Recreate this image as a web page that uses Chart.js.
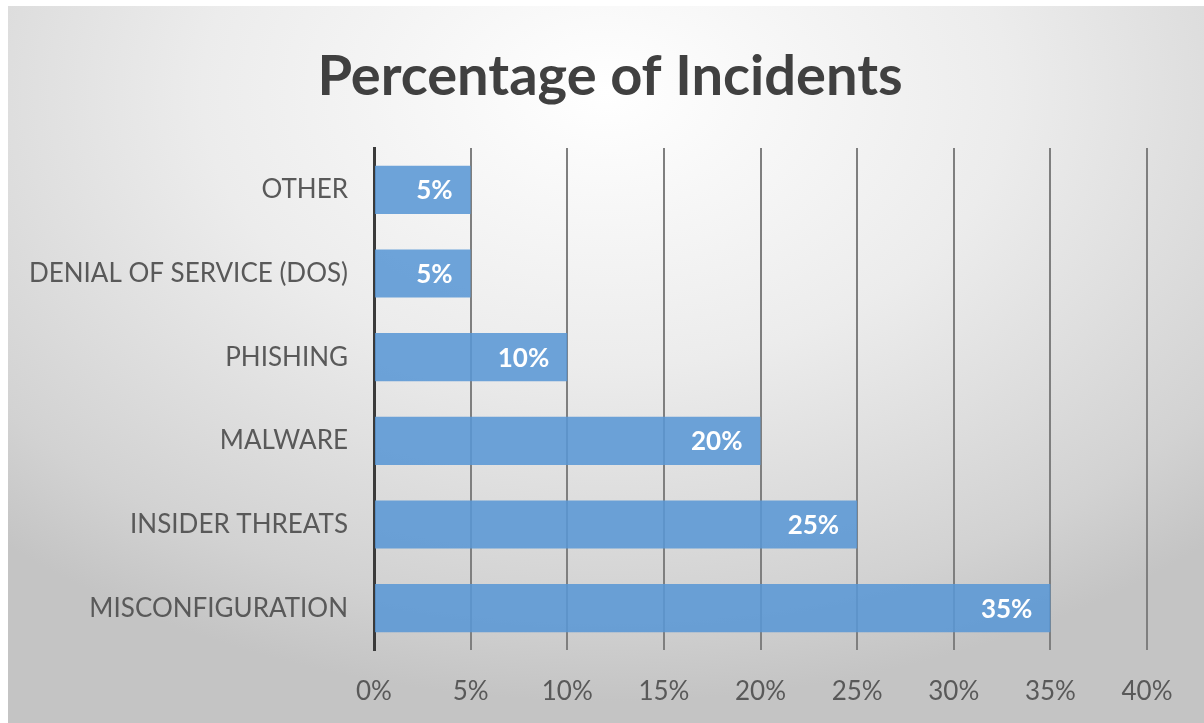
<!DOCTYPE html>
<html>
<head>
<meta charset="utf-8">
<script src="https://cdn.jsdelivr.net/npm/chart.js@4"></script>
<style>
  html, body { margin: 0; padding: 0; background: #fff; }
  .frame {
    position: absolute; left: 8px; top: 6px; width: 1196px; height: 717px;
    background: radial-gradient(ellipse 75% 85% at 50% 12%, #ffffff 0%, #ececec 45%, #d2d2d2 85%, #c4c4c4 100%);
  }
  #chart { position: absolute; left: 0; top: 0; }
</style>
</head>
<body>
<div class="frame"></div>
<canvas id="chart" width="1204" height="723"></canvas>
<script>
const chartTitle = "Percentage of Incidents";
const categories = ["OTHER", "DENIAL OF SERVICE (DOS)", "PHISHING", "MALWARE", "INSIDER THREATS", "MISCONFIGURATION"];
const percentages = [5, 5, 10, 20, 25, 35];
const xTicks = [0, 5, 10, 15, 20, 25, 30, 35, 40];

// title is centred on the whole frame, not on the padded layout box
const frameTitle = {
  id: "frameTitle",
  afterDraw(chart) {
    const ctx = chart.ctx;
    ctx.save();
    ctx.font = "bold 56px Lato";
    ctx.fillStyle = "#404040";
    ctx.textAlign = "center";
    ctx.textBaseline = "middle";
    ctx.fillText(chartTitle, 610, 77);
    ctx.restore();
  },
};

// draws "35%" etc. inside the end of each bar
const barLabels = {
  id: "barLabels",
  afterDatasetsDraw(chart) {
    const ctx = chart.ctx;
    const meta = chart.getDatasetMeta(0);
    ctx.save();
    ctx.font = "bold 26px Lato";
    ctx.fillStyle = "#ffffff";
    ctx.textAlign = "right";
    ctx.textBaseline = "middle";
    meta.data.forEach((bar, i) => {
      const { x, y } = bar.getProps(["x", "y"], true);
      ctx.fillText(percentages[i] + "%", x - 18, y + 1);
    });
    ctx.restore();
  },
};

new Chart(document.getElementById("chart"), {
  type: "bar",
  data: {
    labels: categories,
    datasets: [
      {
        data: percentages,
        backgroundColor: "rgba(90, 151, 213, 0.88)",
        barPercentage: 0.8,
        categoryPercentage: 0.72,
      },
    ],
  },
  options: {
    indexAxis: "y",
    responsive: false,
    animation: false,
    layout: { padding: { top: 148, right: 57, bottom: 0, left: 0 } },
    plugins: {
      legend: { display: false },
      tooltip: { enabled: false },
      title: { display: false },
    },
    scales: {
      x: {
        min: 0,
        max: 40,
        afterBuildTicks: (scale) => {
          scale.ticks = xTicks.map((v) => ({ value: v }));
        },
        afterFit: (scale) => {
          scale.height = 73;
        },
        ticks: {
          callback: (v) => v + "%",
          color: "#595959",
          font: { family: "Lato", size: 26 },
          padding: 26,
        },
        grid: { color: "#7f7f7f", lineWidth: 2, drawTicks: false },
        border: { display: false },
      },
      y: {
        afterFit: (scale) => {
          scale.width = 374;
        },
        ticks: {
          color: "#595959",
          font: { family: "Lato", size: 26 },
          padding: 26,
        },
        grid: { display: false, drawTicks: false },
        border: { display: true, color: "#3a3a3a", width: 3 },
      },
    },
  },
  plugins: [barLabels, frameTitle],
});
</script>
</body>
</html>
